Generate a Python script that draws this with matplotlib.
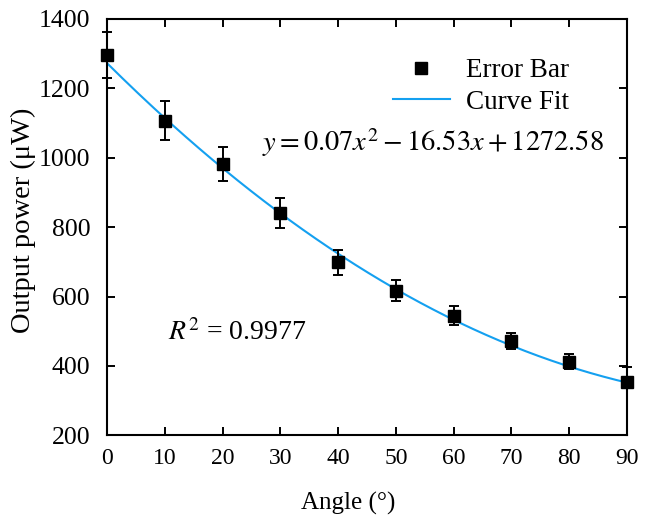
import numpy as np
import matplotlib
matplotlib.use('Agg')
import matplotlib.pyplot as plt

# data
angle = [0, 10, 20, 30, 40, 50, 60, 70, 80, 90]
power = [1296, 1107, 981, 840, 698, 617, 545, 472, 412, 354]
err_low = [65, 55, 49, 43, 35, 31, 28, 24, 21, 15]
err_high = [65, 55, 49, 43, 35, 31, 28, 24, 21, 42]
fit_coef = [0.07, -16.53, 1272.58]   # y = 0.07x^2 - 16.53x + 1272.58
r_squared = '0.9977'

plt.rcParams['font.family'] = 'Liberation Serif'
plt.rcParams['mathtext.fontset'] = 'stix'

fig = plt.figure(figsize=(6.51, 5.16), dpi=100)
ax = fig.add_axes([107 / 651, 1 - 435.3 / 516, 520 / 651, 416.4 / 516])

# fitted curve
xs = np.linspace(angle[0], angle[-1], 200)
ax.plot(xs, np.polyval(fit_coef, xs), color='#14a0f0', lw=1.5, label='Curve Fit', zorder=2)

# error bars and square markers
ax.errorbar(angle, power, yerr=[err_low, err_high], fmt='none', ecolor='black',
            elinewidth=1.4, capsize=3.5, capthick=1.4, clip_on=False, zorder=3)
ax.plot(angle, power, 's', color='black', ms=8.5, label='Error Bar', clip_on=False, zorder=4)

ax.set_xlim(0, 90)
ax.set_ylim(200, 1400)
ax.set_xticks(range(0, 91, 10))
ax.set_yticks(range(200, 1401, 200))
ax.tick_params(direction='in', top=True, right=True, length=6, width=1.4)
ax.tick_params(axis='x', pad=9, labelsize=17)
ax.tick_params(axis='y', pad=12, labelsize=18.5)
for s in ax.spines.values():
    s.set_linewidth(1.5)

ax.set_xlabel('Angle (°)', fontsize=18)
ax.set_ylabel('Output power (μW)', fontsize=20.5)
ax.xaxis.set_label_coords(0.463, -0.135)
ax.yaxis.set_label_coords(-0.137, 0.517)

handles, labels = ax.get_legend_handles_labels()
ax.legend(handles[::-1], labels[::-1], loc='upper left', bbox_to_anchor=(0.529, 0.932),
          frameon=False, fontsize=19.5, handlelength=2.1, handletextpad=0.6,
          labelspacing=0.25, borderaxespad=0)

ax.text(0.298, 0.704, r'$y = 0.07x^2 - 16.53x + 1272.58$', transform=ax.transAxes,
        fontsize=20.5, va='center', ha='left')
ax.text(0.118, 0.2475, r'$R^2$ = ' + r_squared, transform=ax.transAxes,
        fontsize=20, va='center', ha='left')

fig.savefig('out.png', dpi=100)
